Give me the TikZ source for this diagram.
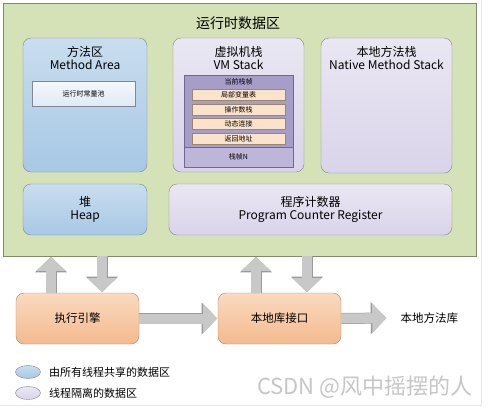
\documentclass[tikz,border=0pt]{standalone}
\usepackage{fontspec}
\setmainfont{Noto Sans CJK SC}
\usetikzlibrary{arrows.meta,shapes.geometric,positioning}

\definecolor{areagreen}{HTML}{D5E2B7}
\definecolor{arealine}{HTML}{7F8A6C}
\definecolor{bluetop}{HTML}{C9DDEF}
\definecolor{bluebot}{HTML}{A8C8E5}
\definecolor{lilactop}{HTML}{EAE7F3}
\definecolor{lilacbot}{HTML}{D9D4EA}
\definecolor{boxline}{HTML}{7F8790}
\definecolor{framedark}{HTML}{A69DC9}
\definecolor{framelight}{HTML}{BEB6D8}
\definecolor{frameline}{HTML}{6F6890}
\definecolor{peach}{HTML}{FBE3CB}
\definecolor{peachline}{HTML}{9C8670}
\definecolor{orangetop}{HTML}{FADAC0}
\definecolor{orangebot}{HTML}{F4BA8E}
\definecolor{orangeline}{HTML}{A08870}
\definecolor{arrowgray}{HTML}{C8C8C8}
\definecolor{arrowedge}{HTML}{9A9A9A}

\tikzset{
  shared/.style={draw=boxline, rounded corners=8pt, top color=bluetop, bottom color=bluebot},
  private/.style={draw=boxline, rounded corners=8pt, top color=lilactop, bottom color=lilacbot},
  engine/.style={draw=orangeline, rounded corners=8pt, top color=orangetop, bottom color=orangebot,
    minimum width=123pt, minimum height=51pt, font=\fontsize{11.5}{13}\selectfont},
  entry/.style={draw=peachline, fill=peach, minimum width=93pt, minimum height=11pt, inner sep=0pt,
    font=\fontsize{7}{8}\selectfont},
  title/.style={align=center, font=\fontsize{12}{13}\selectfont},
  fat/.style={preaction={draw=arrowedge, line width=11pt, -{Triangle[length=15.5pt,width=31pt]}},
    draw=arrowgray, line width=10pt, shorten >=0.7pt, -{Triangle[length=14pt,width=29pt]}},
}

\begin{document}
\begin{tikzpicture}[x=1pt,y=-1pt]
    \useasboundingbox (0,0) rectangle (490,408);
    \draw[gray!20] (481,0) -- (481,405) -- (0,405);

    % runtime data area
    \node[draw=arealine, fill=areagreen, minimum width=473pt, minimum height=253pt] (rda) at (239.5,129.5) {};
    \node[font=\fontsize{14}{15}\selectfont] (rdatitle) at (238,23) {运行时数据区};

    \node[shared, minimum width=124pt, minimum height=134pt] (method) at (85,105) {};
    \node[title] (methodtitle) at (85,58) {方法区\\Method Area};
    \node[draw=boxline, top color=white!80!bluetop, bottom color=white!40!bluetop, minimum width=103pt,
      minimum height=25pt, font=\fontsize{7}{8}\selectfont] (pool) at (83.5,93.5) {运行时常量池};

    \node[private, minimum width=131pt, minimum height=134pt] (vmstack) at (238.5,105) {};
    \node[title] (vmtitle) at (238.5,58) {虚拟机栈\\VM Stack};
    \node[draw=frameline, fill=framedark, minimum width=109pt, minimum height=72pt] (curframe) at (238.5,111) {};
    \node[draw=frameline, fill=framelight, minimum width=109pt, minimum height=20pt,
      font=\fontsize{7}{8}\selectfont] (framen) at (238.5,157) {栈帧N};
    \node[font=\fontsize{7}{8}\selectfont] (curlabel) at (238.5,82) {当前栈帧};
    \node[entry] (locals) at (238.5,95) {局部变量表};
    \node[entry] (operands) at (238.5,109.5) {操作数栈};
    \node[entry] (dynlink) at (238.5,124) {动态连接};
    \node[entry] (retaddr) at (238.5,138.5) {返回地址};

    \node[private, minimum width=131pt, minimum height=135pt] (native) at (386.5,105.5) {};
    \node[title] (nativetitle) at (386.5,58) {本地方法栈\\Native Method Stack};

    \node[shared, title, minimum width=124pt, minimum height=51pt] (heap) at (85,209.5) {堆\\Heap};
    \node[private, title, minimum width=283pt, minimum height=51pt] (pc) at (310.5,209.5)
      {程序计数器\\Program Counter Register};

    % engine and native interface
    \node[engine] (exec) at (77.5,318.5) {执行引擎};
    \node[engine] (iface) at (279.5,318.5) {本地库接口};
    \node[font=\fontsize{11.5}{13}\selectfont, anchor=west] (lib) at (397,318) {本地方法库};

    \coordinate (up1) at ([xshift=-26.5pt]exec.north);
    \coordinate (down1) at ([xshift=24.5pt]exec.north);
    \coordinate (up2) at ([xshift=-23.5pt]iface.north);
    \coordinate (down2) at ([xshift=27.5pt]iface.north);
    \coordinate (libend) at ([xshift=-10pt]lib.west);

    \draw[fat] (up1) -- (up1 |- rda.south);
    \draw[fat] (down1 |- rda.south) -- (down1);
    \draw[fat] (up2) -- (up2 |- rda.south);
    \draw[fat] (down2 |- rda.south) -- (down2);
    \draw[fat] (exec.east) -- (iface.west);
    \draw[fat] (iface.east) -- (libend);

    % legend
    \node[ellipse, draw=boxline, top color=bluetop, bottom color=bluebot, minimum width=25pt,
      minimum height=13pt, inner sep=0pt] (keyshared) at (28,372) {};
    \node[ellipse, draw=boxline, top color=lilactop, bottom color=lilacbot, minimum width=25pt,
      minimum height=13pt, inner sep=0pt] (keyprivate) at (28,393) {};
    \node[font=\fontsize{11}{12}\selectfont, right=5pt of keyshared] (sharedtext) {由所有线程共享的数据区};
    \node[font=\fontsize{11}{12}\selectfont, right=5pt of keyprivate] (privatetext) {线程隔离的数据区};

    \node[font=\fontsize{22}{24}\selectfont, text=gray!45, anchor=east] (mark) at (476,387) {CSDN @风中摇摆的人};
\end{tikzpicture}
\end{document}
